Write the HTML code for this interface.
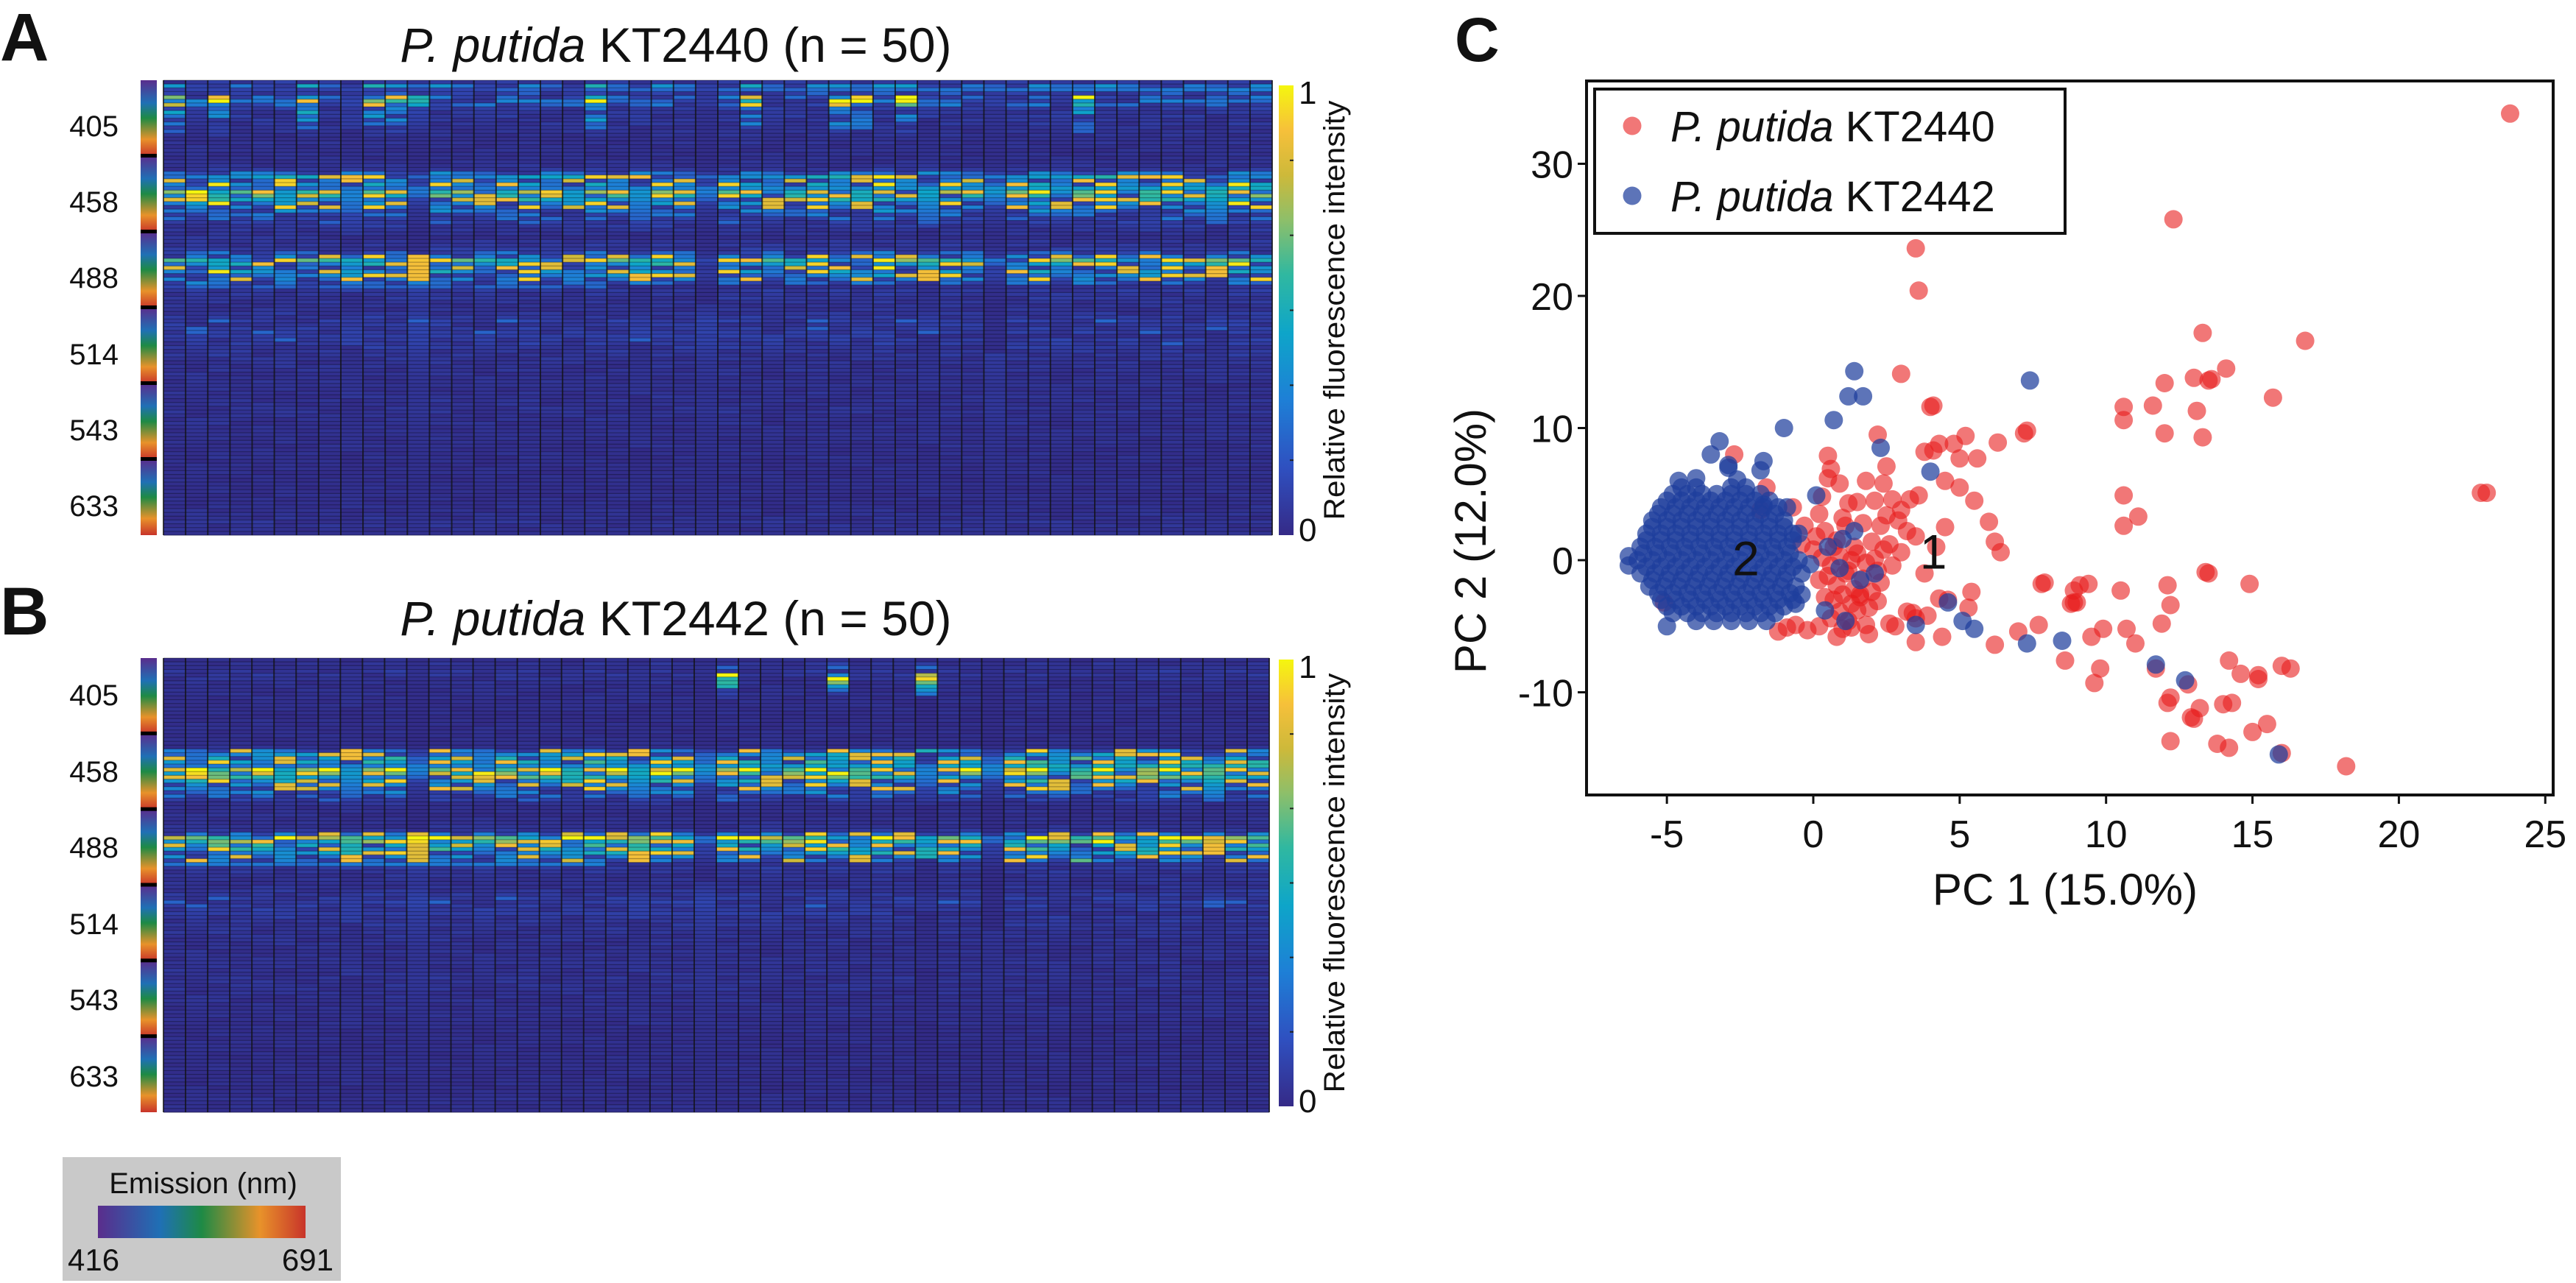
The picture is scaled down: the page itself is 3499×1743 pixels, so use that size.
<!DOCTYPE html>
<html><head><meta charset="utf-8"><title>P. putida fluorescence heatmaps and PCA</title>
<style>
html,body{margin:0;padding:0;background:#fff;}
svg{display:block;}
text{font-family:"Liberation Sans",sans-serif;fill:#111;}
</style></head>
<body>
<svg id="fig" width="3499" height="1743" viewBox="0 0 3499 1743" xmlns="http://www.w3.org/2000/svg">
<defs>
<linearGradient id="spec" x1="0" y1="0" x2="0" y2="1">
<stop offset="0" stop-color="#5a2d8c"/><stop offset="0.3" stop-color="#1f70b5"/><stop offset="0.5" stop-color="#1e8a45"/><stop offset="0.78" stop-color="#e8922a"/><stop offset="1" stop-color="#c8342a"/>
</linearGradient>
<linearGradient id="specH" x1="0" y1="0" x2="1" y2="0">
<stop offset="0" stop-color="#5a2d8c"/><stop offset="0.3" stop-color="#1f70b5"/><stop offset="0.5" stop-color="#1e8a45"/><stop offset="0.78" stop-color="#e8922a"/><stop offset="1" stop-color="#c8342a"/>
</linearGradient>
<linearGradient id="parula" x1="0" y1="1" x2="0" y2="0">
<stop offset="0" stop-color="#352a87"/><stop offset="0.15" stop-color="#2f50c0"/><stop offset="0.3" stop-color="#1e7fd6"/><stop offset="0.45" stop-color="#0ea5c9"/><stop offset="0.58" stop-color="#30b8a0"/><stop offset="0.7" stop-color="#8dbf6a"/><stop offset="0.8" stop-color="#cdb93a"/><stop offset="0.9" stop-color="#f6c03a"/><stop offset="1" stop-color="#f5f60f"/>
</linearGradient>
</defs>

<text x="0" y="82" font-size="92" font-weight="bold">A</text>
<text x="918" y="84" font-size="66" text-anchor="middle"><tspan font-style="italic">P. putida</tspan> KT2440 (n = 50)</text>
<g id="hmA"></g>

<text x="0" y="862" font-size="92" font-weight="bold">B</text>
<text x="918" y="863" font-size="66" text-anchor="middle"><tspan font-style="italic">P. putida</tspan> KT2442 (n = 50)</text>
<g id="hmB"></g>

<g>
<rect x="85" y="1572" width="378" height="168" fill="#c9c9c9"/>
<text x="276" y="1621" font-size="40" text-anchor="middle">Emission (nm)</text>
<rect x="133" y="1638" width="282" height="44" fill="url(#specH)"/>
<text x="92" y="1726" font-size="42">416</text>
<text x="453" y="1726" font-size="42" text-anchor="end">691</text>
</g>

<text x="1976" y="83" font-size="84" font-weight="bold">C</text>
<g id="pca"></g>
</svg>

<script>
// ---------- Heatmap data ----------
const nCols = 50;
const emissionLabels = ["405","458","488","514","543","633"];
const profileA = [
0.12,0.25,0.3,0.15,0.2,0.22,0.2,0.12,0.1,0.12,0.1,0.1,0.08,0.08,0.07,0.07,0.07,0.06,0.06,0.06,
0.06,0.07,0.08,0.1,0.25,0.45,0.3,0.4,0.62,0.66,0.55,0.45,0.35,0.3,0.25,0.2,0.18,0.15,0.12,0.1,
0.08,0.08,0.09,0.1,0.12,0.2,0.3,0.62,0.45,0.3,0.4,0.35,0.3,0.22,0.15,0.12,0.1,0.1,0.09,0.08,
0.08,0.1,0.12,0.15,0.12,0.14,0.15,0.12,0.14,0.13,0.12,0.1,0.1,0.09,0.08,0.08,0.08,0.07,0.07,0.07,
0.06,0.06,0.07,0.07,0.08,0.07,0.08,0.08,0.07,0.07,0.07,0.06,0.06,0.06,0.06,0.06,0.06,0.05,0.06,0.06,
0.05,0.05,0.05,0.05,0.05,0.05,0.05,0.05,0.05,0.05,0.05,0.05,0.06,0.06,0.07,0.07,0.08,0.08,0.07,0.06];
const spikeA = [0.1,0.4,0.3,0.1,0.85,0.9,0.75,0.3,0.35,0.3,0.3,0.25,0.2,0.15,0.1,0.1,0.08,0.05,0,0];
const spikeColsA = [0,2,6,9,10,11,19,26,30,31,33,41];
const profileB = [
0.05,0.08,0.1,0.1,0.1,0.08,0.07,0.06,0.06,0.06,0.06,0.05,0.05,0.05,0.05,0.05,0.05,0.05,0.05,0.05,
0.05,0.05,0.05,0.06,0.3,0.4,0.45,0.5,0.75,0.8,0.7,0.55,0.45,0.35,0.3,0.25,0.2,0.15,0.08,0.06,
0.06,0.06,0.06,0.07,0.08,0.1,0.3,0.78,0.68,0.5,0.5,0.45,0.35,0.28,0.2,0.12,0.1,0.08,0.08,0.07,
0.08,0.1,0.12,0.14,0.15,0.14,0.13,0.12,0.12,0.1,0.1,0.09,0.09,0.08,0.08,0.08,0.07,0.07,0.07,0.07,
0.07,0.07,0.08,0.08,0.09,0.08,0.08,0.08,0.07,0.07,0.07,0.06,0.06,0.06,0.06,0.06,0.06,0.05,0.05,0.05,
0.05,0.05,0.05,0.05,0.05,0.05,0.05,0.05,0.05,0.05,0.05,0.05,0.05,0.05,0.05,0.05,0.06,0.06,0.06,0.05];
const spikeB = [0,0.2,0.3,0.1,0.8,0.9,0.6,0.4,0.3,0.2,0.1,0.05,0,0,0,0,0,0,0,0];
const spikeColsB = [25,30,34];
const colGainA = [1.0,1.1,1.15,1.0,1.05,1.1,0.95,1.0,1.05,1.1,1.0,1.05,1.1,0.95,1.0,1.05,1.1,1.0,0.95,1.1,
1.0,1.05,1.1,1.0,0.9,1.1,1.05,1.0,0.95,1.1,1.05,1.0,1.15,1.0,1.05,1.1,0.95,1.0,1.05,1.1,
1.0,1.05,1.1,1.0,1.05,1.1,1.0,1.05,1.15,1.1];
const colGainB = [1.0,1.05,1.1,1.0,1.05,1.0,0.95,1.0,1.05,1.0,1.1,1.0,1.05,0.95,1.0,1.05,1.0,1.0,0.95,1.1,
1.0,1.05,1.1,1.0,0.95,1.05,1.05,1.0,0.95,1.1,1.05,1.0,1.05,1.0,0.6,1.05,0.95,0.7,1.05,1.1,
1.0,0.75,1.05,1.0,1.05,1.1,1.0,1.05,1.0,1.05];

const NS = "http://www.w3.org/2000/svg";
function mk(tag, attrs, parent){const e=document.createElementNS(NS,tag);for(const k in attrs)e.setAttribute(k,attrs[k]);if(parent)parent.appendChild(e);return e;}
const stops=[[0,[50,40,130]],[0.15,[47,80,192]],[0.3,[30,127,214]],[0.45,[14,165,201]],[0.58,[48,184,160]],[0.7,[141,191,106]],[0.8,[205,185,58]],[0.9,[246,192,58]],[1,[245,246,15]]];
function parula(v){v=Math.max(0,Math.min(1,v));for(let i=1;i<stops.length;i++){if(v<=stops[i][0]){const a=stops[i-1],b=stops[i],t=(v-a[0])/(b[0]-a[0]);return "rgb("+a[1].map((c,j)=>Math.round(c+(b[1][j]-c)*t)).join(",")+")";}}return "rgb(245,246,15)";}
function texture(r,c){return ((r*37+c*101+((r*c)%13)*7)%23)/22;}

function heatmap(g, cfg){
  const x0=cfg.x0,x1=cfg.x1,y0=cfg.y0,y1=cfg.y1,nR=cfg.profile.length;
  const cw=(x1-x0)/nCols,rh=(y1-y0)/nR;
  const xs=c=>x0+c*cw, ys=r=>y0+r*rh;
  mk("rect",{x:x0,y:y0,width:x1-x0,height:y1-y0,fill:"#322885"},g);
  for(let c=0;c<nCols;c++){
    const col=mk("g",{},g);
    
    
    for(let r=0;r<nR;r++){
      let p=cfg.profile[r];
      let v=p*cfg.gain[c];
      if(r<20 && cfg.spikeCols.indexOf(c)>=0) v=Math.max(v,cfg.spike[r]);
      const t=texture(r,c);
      v=v*(0.3+1.1*t);
      if(v<0.2) v=v*0.55;
      if(p>0.25 && t>0.8) v=Math.max(v,0.85*cfg.gain[c]);
      const cell=mk("rect",{x:xs(c).toFixed(2),y:ys(r).toFixed(2),width:(cw+0.3).toFixed(2),height:(rh+0.3).toFixed(2),fill:parula(v)},col);
      
      
    }
  }
  for(let r=0;r<=nR;r++) mk("line",{x1:x0,x2:x1,y1:ys(r),y2:ys(r),stroke:"#000",'stroke-opacity':0.3,'stroke-width':1.2},g);
  for(let c=0;c<=nCols;c++) mk("line",{x1:xs(c),x2:xs(c),y1:y0,y2:y1,stroke:"#111",'stroke-opacity':0.75,'stroke-width':2},g);
  const segH=(y1-y0)/6;
  for(let s=0;s<6;s++){
    const seg=mk("rect",{x:cfg.sx,y:y0+s*segH,width:22,height:segH,fill:"url(#spec)"},g);
    
    
    if(s>0) mk("rect",{x:cfg.sx,y:y0+s*segH-3,width:22,height:5,fill:"#000"},g);
    const lab=mk("text",{x:161,y:cfg.labelY[s],'font-size':40,'text-anchor':'end'},g);
    lab.textContent=emissionLabels[s];
    
    
  }
  const cb=mk("rect",{x:1737,y:cfg.cy0,width:20,height:cfg.cy1-cfg.cy0,fill:"url(#parula)"},g);
  
  
  for(let i=1;i<6;i++){const yy=cfg.cy1-(cfg.cy1-cfg.cy0)*i/6;mk("line",{x1:1752,x2:1757,y1:yy,y2:yy,stroke:"#222",'stroke-width':2},g);}
  const t1=mk("text",{x:1764,y:cfg.cy0+25,'font-size':44},g);t1.textContent="1";
  
  const t0=mk("text",{x:1764,y:cfg.cy1+8,'font-size':44},g);t0.textContent="0";
  
  const cy=(cfg.cy0+cfg.cy1)/2;
  const lt=mk("text",{x:1826,y:cy,'font-size':40,'text-anchor':'middle',transform:"rotate(-90 1826 "+cy+")",textLength:570,lengthAdjust:"spacingAndGlyphs"},g);
  lt.textContent="Relative fluorescence intensity";
  
}
heatmap(document.getElementById('hmA'),{x0:222,x1:1728,y0:109,y1:727,profile:profileA,gain:colGainA,spike:spikeA,spikeCols:spikeColsA,sx:191,labelY:[185,288,391,495,598,701],cy0:116,cy1:727});
heatmap(document.getElementById('hmB'),{x0:222,x1:1724,y0:894,y1:1511,profile:profileB,gain:colGainB,spike:spikeB,spikeCols:spikeColsB,sx:191,labelY:[958,1062,1165,1269,1372,1476],cy0:896,cy1:1503});

// ---------- PCA scatter data ----------
const xTicks=[-5,0,5,10,15,20,25];
const yTicks=[-10,0,10,20,30];
const redPoints=[[23.8,33.8],[12.3,25.8],[3.5,23.6],[3.6,20.4],[13.3,17.2],[16.8,16.6],[14.1,14.5],[13.0,13.8],[13.5,13.6],[13.6,13.7],[12.0,13.4],[15.7,12.3],[10.6,11.6],[11.6,11.7],[13.1,11.3],[10.6,10.6],[12.0,9.6],[13.3,9.3],[3.0,14.1],[4.1,11.7],[4.0,11.6],[7.2,9.6],[7.3,9.8],[6.3,8.9],[5.2,9.4],[4.8,8.8],[4.3,8.8],[3.8,8.2],[4.1,8.3],[5.6,7.7],[5.0,7.7],[2.2,9.5],[0.5,7.9],[2.5,7.1],[0.6,6.9],[10.6,4.9],[22.8,5.1],[23.0,5.1],[11.1,3.3],[10.6,2.6],[6.0,2.9],[6.2,1.4],[6.4,0.6],[13.4,-0.9],[13.5,-1.0],[14.9,-1.8],[7.8,-1.8],[7.9,-1.7],[9.1,-1.9],[9.4,-1.8],[8.9,-2.3],[10.5,-2.3],[12.1,-1.9],[5.4,-2.4],[8.8,-3.3],[8.9,-3.2],[9.0,-3.2],[12.2,-3.4],[4.3,-2.9],[3.2,-3.9],[3.5,-4.4],[7.0,-5.4],[7.7,-4.9],[9.9,-5.2],[10.7,-5.2],[11.9,-4.8],[11.0,-6.3],[9.5,-5.8],[6.2,-6.4],[3.5,-6.2],[4.4,-5.8],[8.6,-7.6],[9.8,-8.2],[9.6,-9.3],[11.7,-8.2],[12.8,-9.4],[12.2,-10.4],[12.1,-10.8],[13.2,-11.2],[13.0,-12.0],[12.9,-11.9],[14.0,-10.9],[14.3,-10.8],[15.2,-8.7],[15.2,-9.0],[14.2,-7.6],[14.6,-8.6],[16.0,-8.0],[16.3,-8.2],[15.0,-13.0],[15.5,-12.4],[12.2,-13.7],[13.8,-13.9],[14.2,-14.2],[16.0,-14.6],[18.2,-15.6],[-2.7,8.0],[-5.1,-3.2],
[-1.8,3.8],[-1.6,5.5],[-0.7,4.0],[-0.3,2.6],[0.2,3.5],[0.5,6.2],[0.9,5.8],[1.2,4.3],[1.5,4.4],[1.8,6.0],[2.1,4.5],[2.4,5.8],[2.7,4.6],[3.0,3.8],[3.3,4.6],[3.6,4.9],[0.1,1.8],[0.4,2.2],[0.8,1.5],[1.1,2.6],[1.4,1.0],[1.7,2.8],[2.0,1.4],[2.3,2.6],[2.6,1.2],[2.9,3.0],[3.2,2.2],[0.3,0.2],[0.6,-0.4],[0.9,0.3],[1.2,-0.8],[1.5,0.5],[1.8,-0.2],[2.1,0.1],[2.4,0.8],[2.7,-0.4],[3.0,0.6],[0.2,-1.5],[0.5,-1.2],[0.8,-1.9],[1.1,-1.0],[1.4,-2.2],[1.7,-1.4],[2.0,-2.4],[2.3,-1.7],[0.4,-2.8],[0.7,-3.0],[1.0,-2.6],[1.3,-3.3],[1.6,-2.8],[1.9,-3.6],[2.2,-3.1],[0.6,-4.4],[0.9,-3.9],[1.2,-4.6],[1.5,-3.8],[1.8,-4.9],[-0.6,-4.9],[-0.2,-5.3],[1.0,-5.2],[1.9,-5.6],[2.8,-5.0],[3.4,-4.0],[4.6,-3.0],[5.3,-3.6],[1.6,-2.6],[2.6,-4.8],[3.9,-4.2],[-1.2,-5.4],[-0.9,-5.1],[0.2,-5.0],[0.8,-5.8],[1.3,-5.1],[-0.4,1.2],[0.0,0.8],[0.7,1.0],[1.3,0.0],[2.2,-0.8],[0.3,4.8],[1.0,3.2],[2.5,3.4],[3.5,1.8],[4.5,2.5],[4.2,1.0],[3.8,-1.0],[5.0,5.5],[5.5,4.5],[4.5,6.0]];
const blueOutliers=[[1.4,14.3],[1.2,12.4],[1.7,12.4],[7.4,13.6],[0.7,10.6],[-1.0,10.0],[2.3,8.5],[-3.2,9.0],[-3.5,8.0],[-2.9,7.2],[-2.9,7.0],[-1.7,7.5],[-1.8,6.8],[4.0,6.7],[0.1,4.9],[-0.9,4.0],[-1.7,4.2],[2.1,-1.0],[4.6,-3.2],[1.1,-4.6],[3.5,-4.9],[5.1,-4.6],[5.5,-5.2],[7.3,-6.3],[8.5,-6.1],[11.7,-7.9],[12.7,-9.1],[15.9,-14.7],[-6.3,0.3],[-6.3,-0.4],[-5.0,-5.0],[-0.4,-2.6],[-0.6,-3.3],[1.4,2.2],[0.5,1.0],[-0.5,2.0],[0.9,-0.6],[1.6,-1.5],[-0.1,-0.3],[0.4,-3.8],[1.0,1.6],[-4.6,6.0],[-4.0,6.2],[-2.6,6.1]];
const blueClusterY=[5.5,5.0,4.5,4.0,3.5,3.0,2.5,2.0,1.5,1.0,0.5,0.0,-0.5,-1.0,-1.5,-2.0,-2.5,-3.0,-3.5,-4.0,-4.6];
const blueClusterX=[
[-4.5,-4.0,-2.8,-2.3],
[-4.8,-4.3,-3.8,-3.3,-2.8,-2.3,-1.8],
[-5.0,-4.5,-4.0,-3.5,-3.0,-2.5,-2.0,-1.5],
[-5.2,-4.7,-4.2,-3.7,-3.2,-2.7,-2.2,-1.7,-1.2],
[-5.3,-4.8,-4.3,-3.8,-3.3,-2.8,-2.3,-1.8,-1.3],
[-5.5,-5.0,-4.5,-4.0,-3.5,-3.0,-2.5,-2.0,-1.5,-1.0],
[-5.5,-5.0,-4.5,-4.0,-3.5,-3.0,-2.5,-2.0,-1.5,-1.0],
[-5.7,-5.2,-4.7,-4.2,-3.7,-3.2,-2.7,-2.2,-1.7,-1.2,-0.7],
[-5.7,-5.2,-4.7,-4.2,-3.7,-3.2,-2.7,-2.2,-1.7,-1.2,-0.7],
[-5.9,-5.4,-4.9,-4.4,-3.9,-3.4,-2.9,-2.4,-1.9,-1.4,-0.9],
[-5.8,-5.3,-4.8,-4.3,-3.8,-3.3,-2.8,-2.3,-1.8,-1.3,-0.8],
[-6.0,-5.5,-5.0,-4.5,-4.0,-3.5,-3.0,-2.5,-2.0,-1.5,-1.0,-0.5],
[-5.7,-5.2,-4.7,-4.2,-3.7,-3.2,-2.7,-2.2,-1.7,-1.2,-0.7],
[-5.9,-5.4,-4.9,-4.4,-3.9,-3.4,-2.9,-2.4,-1.9,-1.4,-0.9,-0.4],
[-5.5,-5.0,-4.5,-4.0,-3.5,-3.0,-2.5,-2.0,-1.5,-1.0],
[-5.6,-5.1,-4.6,-4.1,-3.6,-3.1,-2.6,-2.1,-1.6,-1.1,-0.6],
[-5.3,-4.8,-4.3,-3.8,-3.3,-2.8,-2.3,-1.8,-1.3,-0.8],
[-5.2,-4.7,-4.2,-3.7,-3.2,-2.7,-2.2,-1.7,-1.2,-0.7],
[-5.0,-4.5,-4.0,-3.5,-3.0,-2.5,-2.0,-1.5,-1.0],
[-4.8,-4.3,-3.8,-3.3,-2.8,-2.3,-1.8,-1.3],
[-4.0,-3.4,-2.8,-2.2,-1.6]];

(function(){
  const g=document.getElementById('pca');
  const L=2155,R=3468,T=110,B=1080;
  const xs=v=>2463+v*39.77, ys=v=>761-v*17.95;
  const box=mk("rect",{x:L,y:T,width:R-L,height:B-T,fill:"#fff",stroke:"#111",'stroke-width':4},g);
  
  xTicks.forEach(t=>{
    mk("line",{x1:xs(t),x2:xs(t),y1:B,y2:B+12,stroke:"#111",'stroke-width':3},g);
    const tx=mk("text",{x:xs(t),y:1151,'font-size':52,'text-anchor':'middle'},g);tx.textContent=String(t);
    
  });
  yTicks.forEach(t=>{
    mk("line",{x1:L-12,x2:L,y1:ys(t),y2:ys(t),stroke:"#111",'stroke-width':3},g);
    const ty=mk("text",{x:L-18,y:ys(t)+19,'font-size':52,'text-anchor':'end'},g);ty.textContent=String(t);
    
  });
  const xl=mk("text",{x:2805,y:1229,'font-size':60,'text-anchor':'middle'},g);xl.textContent="PC 1 (15.0%)";
  
  const yl=mk("text",{x:2018,y:735,'font-size':60,'text-anchor':'middle',transform:"rotate(-90 2018 735)"},g);yl.textContent="PC 2 (12.0%)";
  
  const rg=mk("g",{},g);
  
  redPoints.forEach(p=>{
    const c=mk("circle",{cx:xs(p[0]).toFixed(1),cy:ys(p[1]).toFixed(1),r:12.5,fill:"#e81c1c",'fill-opacity':0.6},rg);
    
  });
  const bg=mk("g",{},g);
  
  function bluePt(x,y){
    const c=mk("circle",{cx:xs(x).toFixed(1),cy:ys(y).toFixed(1),r:12.5,fill:"#1f3f9c",'fill-opacity':0.72},bg);
    
  }
  blueClusterY.forEach((y,i)=>blueClusterX[i].forEach(x=>bluePt(x,y)));
  blueOutliers.forEach(p=>bluePt(p[0],p[1]));
  const l2=mk("text",{x:xs(-2.3),y:ys(0.2)+24,'font-size':66,'text-anchor':'middle'},g);l2.textContent="2";
  
  const l1=mk("text",{x:xs(4.1),y:ys(0.7)+24,'font-size':66,'text-anchor':'middle'},g);l1.textContent="1";
  
  const lg=mk("g",{},g);
  
  mk("rect",{x:2166,y:121,width:639,height:196,fill:"#fff",stroke:"#111",'stroke-width':4},lg);
  const e1=mk("g",{},lg);
  mk("circle",{cx:2217,cy:171,r:12.5,fill:"#e81c1c",'fill-opacity':0.6},e1);
  const t1=mk("text",{x:2269,y:192,'font-size':58},e1);t1.innerHTML='<tspan font-style="italic">P. putida</tspan> KT2440';
  const e2=mk("g",{},lg);
  mk("circle",{cx:2217,cy:266,r:12.5,fill:"#1f3f9c",'fill-opacity':0.72},e2);
  const t2=mk("text",{x:2269,y:287,'font-size':58},e2);t2.innerHTML='<tspan font-style="italic">P. putida</tspan> KT2442';
})();
</script>
</body></html>
